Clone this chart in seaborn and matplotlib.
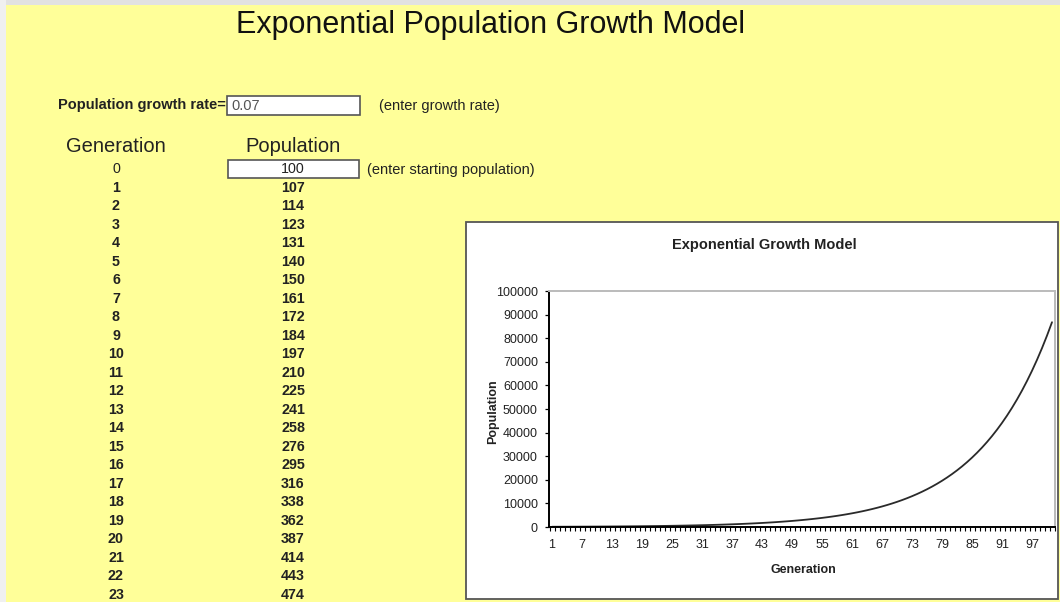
import numpy as np
import pandas as pd
import matplotlib
matplotlib.use("Agg")
import matplotlib.pyplot as plt
from matplotlib.patches import Rectangle
from matplotlib.ticker import FixedLocator
import seaborn as sns

growth_rate = "0.07"
population = [100, 107, 114, 123, 131, 140, 150, 161, 172, 184,
              197, 210, 225, 241, 258, 276, 295, 316, 338, 362,
              387, 414, 443, 474, 507, 543, 581, 621, 665, 711,
              761, 815, 872, 933, 998, 1068, 1142, 1222, 1308, 1399,
              1497, 1602, 1714, 1834, 1963, 2100, 2247, 2405, 2573, 2753,
              2946, 3152, 3373, 3609, 3861, 4132, 4421, 4730, 5061, 5416,
              5795, 6200, 6634, 7099, 7596, 8127, 8696, 9305, 9956, 10653,
              11399, 12197, 13051, 13964, 14942, 15988, 17107, 18304, 19586, 20956,
              22423, 23993, 25673, 27470, 29393, 31450, 33652, 36007, 38528, 41225,
              44110, 47198, 50502, 54037, 57820, 61867, 66198, 70832, 75790, 81095,
              86772]
chart_gen = list(range(1, len(population) + 1))
table_gen = list(range(0, 24))
x_tick_labels = [1, 7, 13, 19, 25, 31, 37, 43, 49, 55, 61, 67, 73, 79, 85, 91, 97]
y_ticks = [0, 10000, 20000, 30000, 40000, 50000, 60000, 70000, 80000, 90000, 100000]

sns.set_style("white")
plt.rcParams['font.family'] = ['Liberation Sans', 'DejaVu Sans']

W, H = 1060, 602
fig = plt.figure(figsize=(W / 100, H / 100), dpi=100, facecolor='#FFFF99')

def fx(x):
    return x / W

def fy(y):
    return 1 - y / H

def box(x0, y0, x1, y1, **kw):
    r = Rectangle((fx(x0), fy(y1)), fx(x1) - fx(x0), fy(y0) - fy(y1),
                  transform=fig.transFigure, **kw)
    fig.add_artist(r)

# sheet chrome
box(0, 0, W, 5, facecolor='#e2e2e2', edgecolor='none', zorder=-2)
box(0, 0, 6, H, facecolor='#f0f0f0', edgecolor='none', zorder=-2)

fig.text(fx(491), fy(25), "Exponential Population Growth Model",
         fontsize=22, ha='center', va='center', color='#111111')

fig.text(fx(226), fy(105), "Population growth rate=", fontsize=10.5,
         fontweight='bold', ha='right', va='center', color='#222222')
box(227, 96, 360, 115, facecolor='white', edgecolor='#555555', lw=1.2, zorder=-1)
fig.text(fx(231), fy(105.5), growth_rate, fontsize=10.5, ha='left', va='center', color='#555555')
fig.text(fx(379), fy(106), "(enter growth rate)", fontsize=10.5, ha='left', va='center', color='#222222')

fig.text(fx(116), fy(147), "Generation", fontsize=14.5, ha='center', va='center', color='#222222')
fig.text(fx(293), fy(147), "Population", fontsize=14.5, ha='center', va='center', color='#222222')

box(228, 160, 359, 178, facecolor='white', edgecolor='#555555', lw=1.2, zorder=-1)
fig.text(fx(367), fy(170), "(enter starting population)", fontsize=10.5,
         ha='left', va='center', color='#222222')

row_h = 18.52
for i, g in enumerate(table_gen):
    y = 169 + row_h * i
    wt = 'normal' if i == 0 else 'bold'
    fig.text(fx(116), fy(y), str(g), fontsize=10.3, fontweight=wt,
             ha='center', va='center', color='#222222')
    fig.text(fx(293), fy(y), str(population[i]), fontsize=10.3, fontweight=wt,
             ha='center', va='center', color='#222222')

# chart object
box(466, 222, 1058, 599, facecolor='white', edgecolor='#555555', lw=1.3, zorder=-1)
fig.text(fx(764), fy(245), "Exponential Growth Model", fontsize=10.5,
         fontweight='bold', ha='center', va='center', color='#222222')

ax = fig.add_axes([fx(549), fy(527), fx(1055) - fx(549), fy(291) - fy(527)])
ax.set_facecolor('white')
df = pd.DataFrame({'Generation': chart_gen, 'Population': population})
sns.lineplot(data=df, x='Generation', y='Population', ax=ax, color='#2a2a2a', lw=1.3)

ax.set_xlim(0.4, 101.6)
ax.set_ylim(0, 100000)
ax.set_xticks(x_tick_labels)
ax.set_xticklabels([str(v) for v in x_tick_labels])
ax.xaxis.set_minor_locator(FixedLocator([k + 0.5 for k in range(0, 102)]))
ax.set_yticks(y_ticks)
ax.set_yticklabels([str(v) for v in y_ticks])
ax.tick_params(axis='x', which='major', length=0, pad=9, labelsize=9, colors='#222222')
ax.tick_params(axis='x', which='minor', length=3, width=0.8, direction='out', color='black', bottom=True)
ax.tick_params(axis='y', which='major', length=3, width=0.9, direction='out', pad=5,
               labelsize=9, colors='black', labelcolor='#222222', left=True)

for s in ['left', 'bottom']:
    ax.spines[s].set_color('black')
    ax.spines[s].set_linewidth(1.4)
for s in ['top', 'right']:
    ax.spines[s].set_color('#bbbbbb')
    ax.spines[s].set_linewidth(1.4)

ax.set_xlabel('Generation', fontsize=9, fontweight='bold', color='#222222')
ax.set_ylabel('Population', fontsize=9, fontweight='bold', color='#222222')
ax.xaxis.set_label_coords(0.502, -0.158)
ax.yaxis.set_label_coords(-0.098, 0.487)

plt.savefig("out.png", dpi=100, facecolor=fig.get_facecolor())
